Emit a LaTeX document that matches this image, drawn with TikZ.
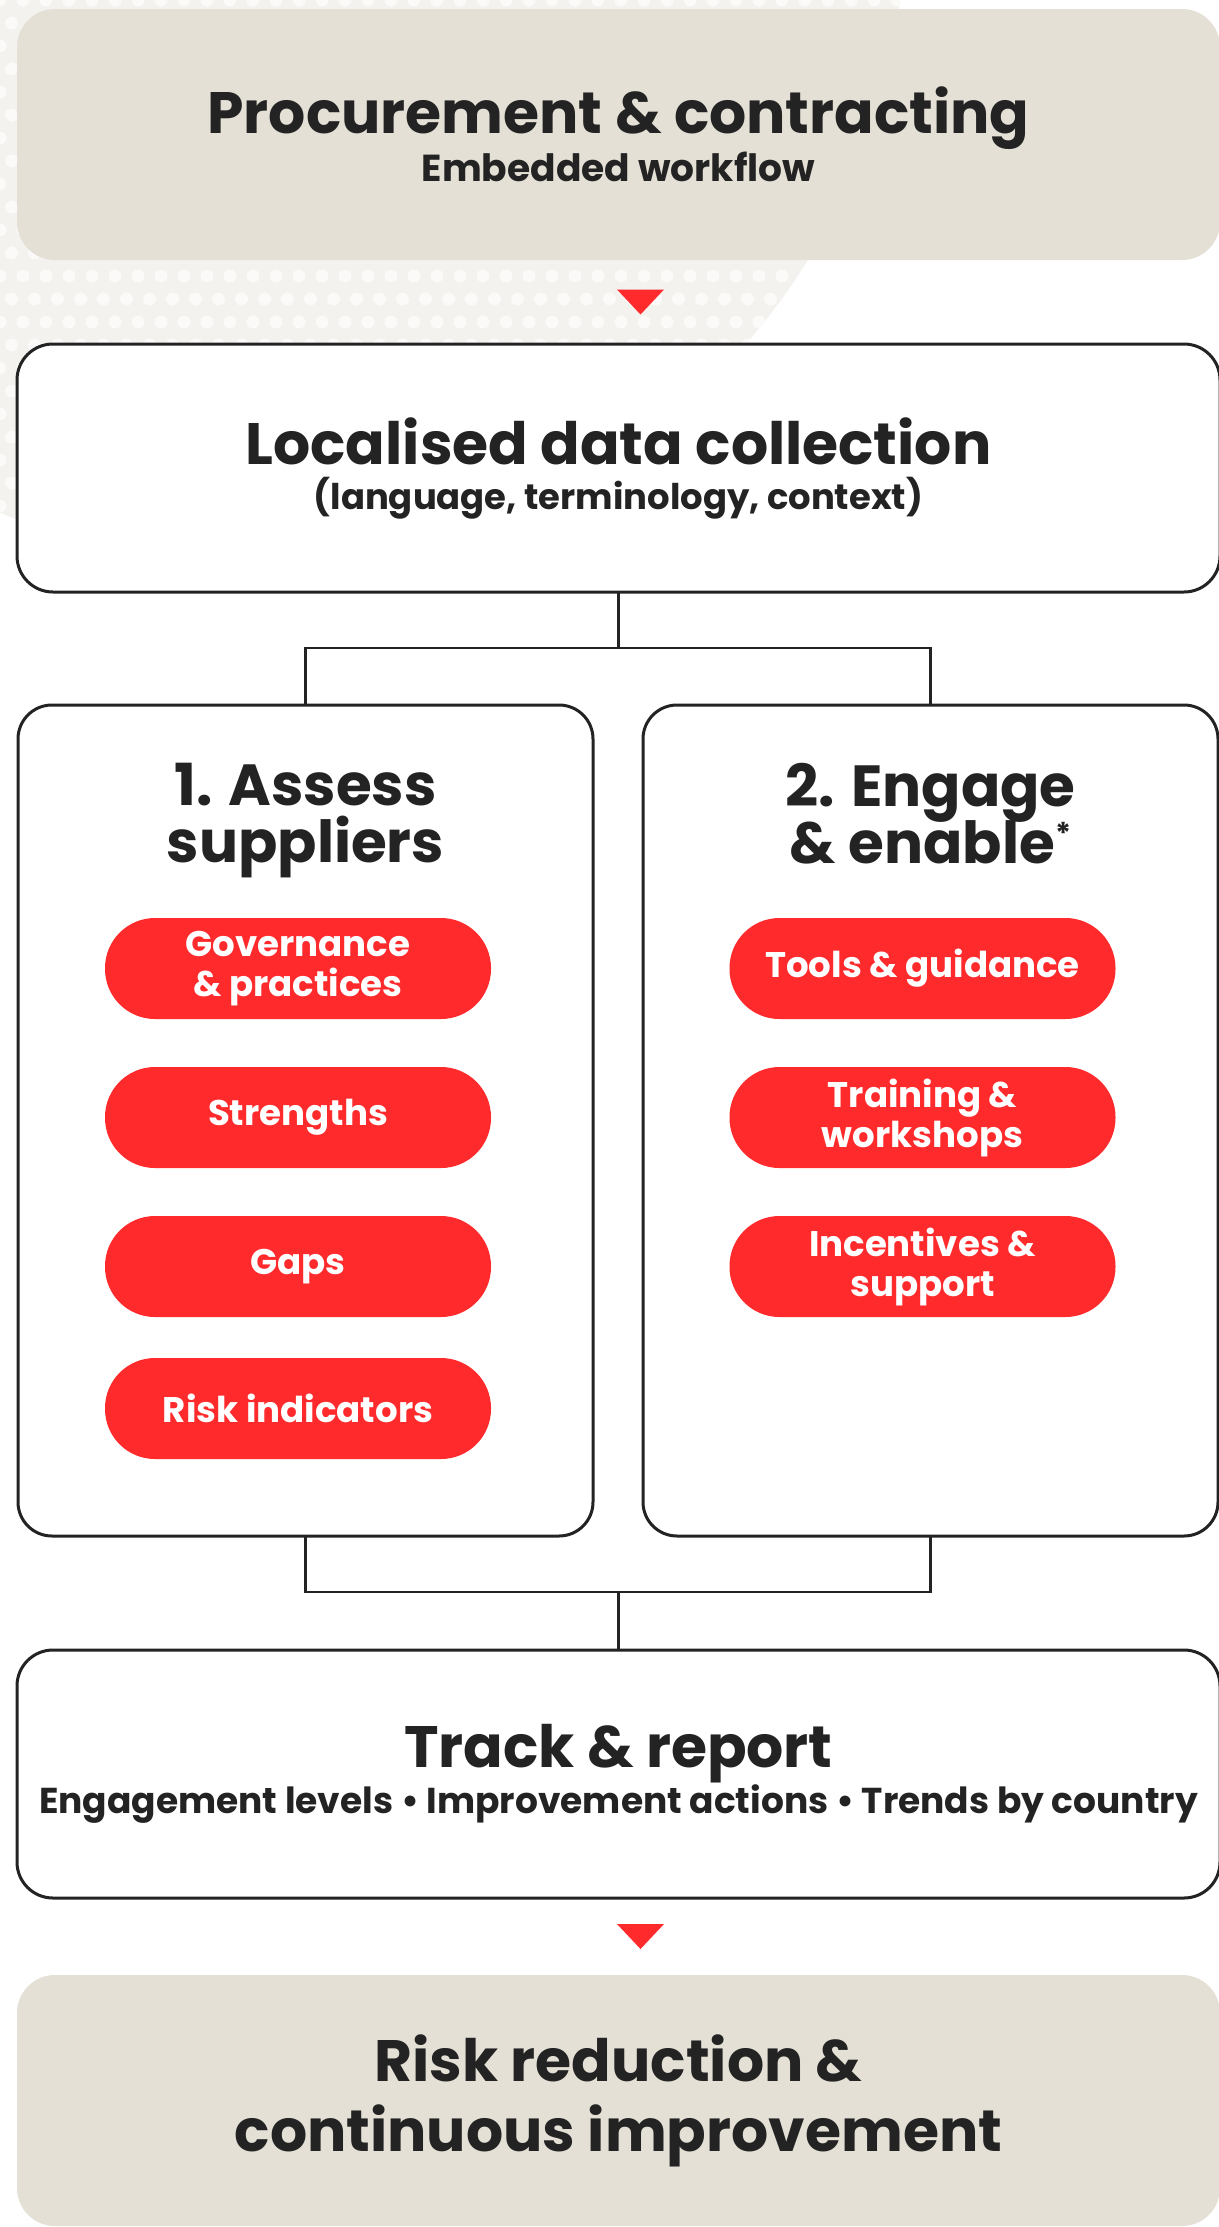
\documentclass[tikz,border=0pt]{standalone}
\usepackage{fontspec}
\setmainfont{Poppins}
\usetikzlibrary{positioning}

\definecolor{sand}{HTML}{E4E0D6}
\definecolor{signal}{HTML}{FF2A2C}
\definecolor{ink}{HTML}{232323}
\definecolor{specklebg}{HTML}{F4F2EE}
\definecolor{speckle}{HTML}{FBFAF8}

\newcommand{\stagehead}[1]{{\fontsize{29.2pt}{30pt}\selectfont #1}}

\begin{document}
\begin{tikzpicture}[
    x=0.5pt, y=-0.5pt,
    every node/.style={align=center, text=ink, font=\bfseries},
    stage_sand/.style={
        rectangle,
        fill=sand,
        rounded corners=19pt,
        minimum width=601.5pt,
        minimum height=125.5pt,
        inner sep=0pt,
        outer sep=0pt,
        font=\bfseries\fontsize{18.8pt}{22.5pt}\selectfont
    },
    stage_line/.style={
        rectangle,
        draw=ink,
        line width=1.5pt,
        fill=white,
        rounded corners=18pt,
        minimum width=601.5pt,
        minimum height=124pt,
        inner sep=0pt,
        outer sep=0pt,
        font=\bfseries\fontsize{17.7pt}{22.5pt}\selectfont
    },
    column/.style={
        rectangle,
        draw=ink,
        line width=1.5pt,
        fill=white,
        rounded corners=17pt,
        outer sep=0pt,
        minimum width=287.5pt,
        minimum height=415.5pt
    },
    coltitle/.style={
        inner sep=0pt,
        outer sep=0pt,
        font={\bfseries\fontsize{29pt}{28.5pt}\selectfont\lineskiplimit=-6pt}
    },
    pill/.style={
        rectangle,
        fill=signal,
        rounded corners=25pt,
        minimum width=193pt,
        minimum height=50.5pt,
        inner sep=0pt,
        outer sep=0pt,
        text=white,
        font=\bfseries\fontsize{17.8pt}{20pt}\selectfont
    },
    link/.style={draw=ink, line width=1.3pt},
    marker/.style={fill=signal}
]
    \useasboundingbox (0,0) rectangle (1219,2227);
    \fill[white] (0,0) rectangle (1219,2227);

    % speckled backdrop in the upper left corner
    \begin{scope}
        \clip (0,0) rectangle (1219,2227);
        \clip (258,-81) circle[radius=647];
        \fill[specklebg] (0,0) rectangle (1219,700);
        \foreach \i in {0,...,40}
            \foreach \j in {0,...,26}
                \fill[speckle] ({\i*23 + mod(\j,2)*11.5}, {\j*23}) circle[radius=6.5];
    \end{scope}

    % main stages
    \node [stage_sand] (proc) at (618.5,134.5) {
        \stagehead{Procurement \& contracting}\\
        Embedded workflow
    };
    \node [stage_line, below=42pt of proc] (local) {
        \stagehead{Localised data collection}\\
        (language, terminology, context)
    };

    % the two columns
    \node [column, below=56.5pt of local.south west, anchor=north west, xshift=0.5pt] (assess) {};
    \node [column, right=25pt of assess] (engage) {};

    \node [coltitle, below=29pt of assess.north] (assesstitle) {1. Assess\\suppliers};
    \node [coltitle, below=29pt of engage.north] (engagetitle) {
        2. Engage\\
        \& enable\raisebox{9.5pt}{\fontsize{15pt}{15pt}\selectfont *}
    };

    \node [pill, below=106.5pt of assess.north, xshift=-3.75pt] (governance) {Governance\\\& practices};
    \node [pill, below=24pt of governance] (strengths) {Strengths};
    \node [pill, below=24pt of strengths] (gaps) {Gaps};
    \node [pill, below=20.5pt of gaps] (riskind) {Risk indicators};

    \node [pill, below=106.5pt of engage.north, xshift=-4pt] (tools) {Tools \& guidance};
    \node [pill, below=24pt of tools] (training) {Training \&\\workshops};
    \node [pill, below=24pt of training] (incentives) {Incentives \&\\support};

    % closing stages
    \node [stage_line, below=57pt of assess.south west, anchor=north west, xshift=-0.5pt,
           font=\bfseries\fontsize{18pt}{21.5pt}\selectfont] (track) {
        \stagehead{Track \& report}\\
        Engagement levels \textbullet{} Improvement actions \textbullet{} Trends by country
    };
    \node [stage_sand, below=38.5pt of track,
           font=\bfseries\fontsize{29.2pt}{35pt}\selectfont] (risk) {
        Risk reduction \&\\
        continuous improvement
    };

    % split and merge lines
    \path (local.south) ++(0,56) coordinate (split);
    \draw [link] (local.south) -- (split);
    \draw [link] (assess.north) |- (split) -| (engage.north);

    \path (assess.south) ++(0,56) coordinate (mergeleft);
    \coordinate (merge) at (mergeleft -| track.north);
    \draw [link] (assess.south) |- (merge) -| (engage.south);
    \draw [link] (merge) -- (track.north);

    % red down markers
    \path (proc.south) -- (local.north) coordinate[pos=0.5, xshift=11pt] (markA);
    \fill [marker] (markA) ++(-23.5,-12.5) -- ++(47,0) -- ++(-23.5,25) -- cycle;
    \path (track.south) -- (risk.north) coordinate[pos=0.5, xshift=11pt] (markB);
    \fill [marker] (markB) ++(-23.5,-12.5) -- ++(47,0) -- ++(-23.5,25) -- cycle;
\end{tikzpicture}
\end{document}
